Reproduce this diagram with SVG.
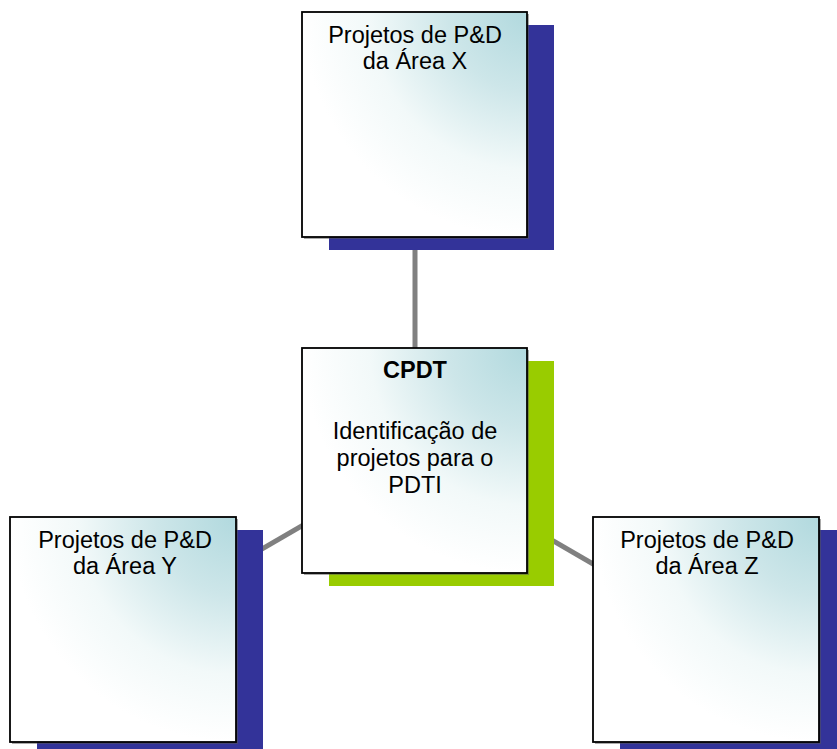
<svg xmlns="http://www.w3.org/2000/svg" width="837" height="749" viewBox="0 0 837 749">
  <defs>
    <radialGradient id="fill" cx="1" cy="0" r="1.0" fx="1" fy="0">
      <stop offset="0" stop-color="#b1d9de"/>
      <stop offset="0.35" stop-color="#cde6e9"/>
      <stop offset="0.7" stop-color="#f2f9f9"/>
      <stop offset="1" stop-color="#ffffff"/>
    </radialGradient>
    <style>
      .box { fill: url(#fill); stroke: #000000; stroke-width: 1.8; }
      .shadow-blue { fill: #333399; }
      .shadow-green { fill: #99cc00; }
      .edge { fill: #555555; opacity: 0.5; }
      .conn { stroke: #808080; stroke-width: 5; fill: none; }
      text { font-family: "Liberation Sans", Arial, sans-serif; font-size: 23.5px; fill: #000000; text-anchor: middle; }
      .bold { font-weight: bold; }
    </style>
  </defs>
  <rect width="837" height="749" fill="#ffffff"/>
  <g id="connectors">
    <line class="conn" x1="415" y1="124" x2="415" y2="460"/>
    <line class="conn" x1="123" y1="629.5" x2="414.5" y2="460.5"/>
    <line class="conn" x1="706" y1="629.5" x2="414.5" y2="460.5"/>
  </g>
  <g id="node-x">
    <rect class="shadow-blue" x="329" y="25" width="225" height="225"/>
    <rect class="edge" x="304" y="14" width="225" height="225"/>
    <rect class="box" x="302" y="12" width="225" height="225"/>
    <text x="415" y="42.7">Projetos de P&amp;D</text>
    <text x="415" y="69.3">da Área X</text>
  </g>
  <g id="node-cpdt">
    <rect class="shadow-green" x="329" y="361" width="225" height="225"/>
    <rect class="edge" x="304" y="350" width="225" height="225"/>
    <rect class="box" x="302" y="348" width="225" height="225"/>
    <text class="bold" x="415" y="378.3">CPDT</text>
    <text x="415" y="439.3">Identificação de</text>
    <text x="415" y="466">projetos para o</text>
    <text x="415" y="492.7">PDTI</text>
  </g>
  <g id="node-y">
    <rect class="shadow-blue" x="37" y="530" width="226" height="225"/>
    <rect class="edge" x="12" y="519" width="226" height="225"/>
    <rect class="box" x="10" y="517" width="226" height="225"/>
    <text x="125" y="547.7">Projetos de P&amp;D</text>
    <text x="125" y="574.3">da Área Y</text>
  </g>
  <g id="node-z">
    <rect class="shadow-blue" x="620" y="530" width="226" height="225"/>
    <rect class="edge" x="595" y="519" width="226" height="225"/>
    <rect class="box" x="593" y="517" width="226" height="225"/>
    <text x="707" y="547.7">Projetos de P&amp;D</text>
    <text x="707" y="574.3">da Área Z</text>
  </g>
</svg>
